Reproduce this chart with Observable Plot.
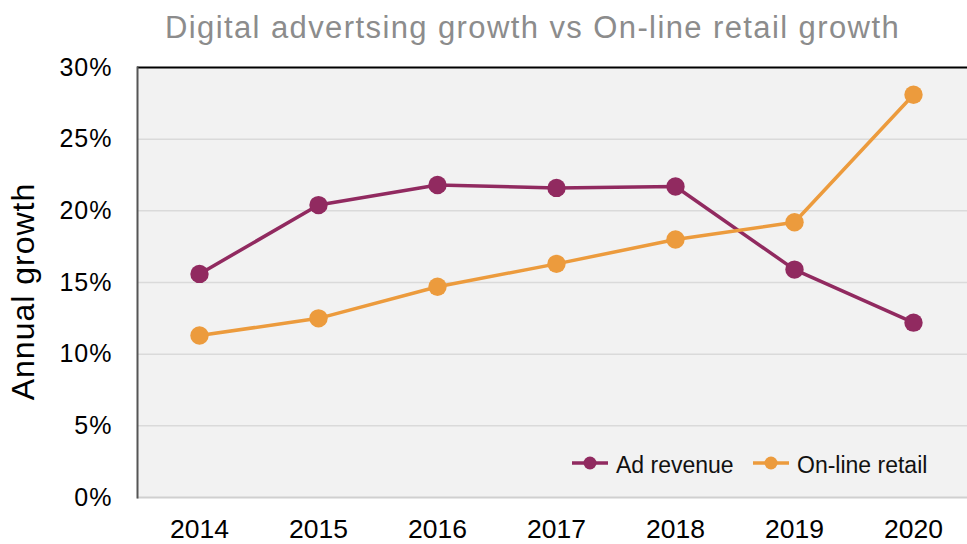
<!DOCTYPE html>
<html>
<head>
<meta charset="utf-8">
<script src="https://cdn.jsdelivr.net/npm/d3@7"></script>
<script src="https://cdn.jsdelivr.net/npm/@observablehq/plot@0.6"></script>
<style>
  html, body { margin: 0; padding: 0; background: #fff; }
  body { width: 967px; height: 544px; overflow: hidden; position: relative; font-family: "Liberation Sans", Arial, Helvetica, sans-serif; }
  #title { height: 52px; line-height: 56px; text-align: center; font-size: 31px; letter-spacing: 1.4px; color: #8c8c8c; padding-left: 98px; box-sizing: border-box; white-space: nowrap; overflow: visible; }
  #legend { position: absolute; left: 0; top: 0; pointer-events: none; }
</style>
</head>
<body>
<div id="title">Digital advertsing growth vs On-line retail growth</div>
<div id="chart"></div>
<svg id="legend" width="967" height="544"></svg>
<script>
const years = ["2014", "2015", "2016", "2017", "2018", "2019", "2020"];
const adRevenue = [15.6, 20.4, 21.8, 21.6, 21.7, 15.9, 12.2];
const onlineRetail = [11.3, 12.5, 14.7, 16.3, 18.0, 19.2, 28.1];
const seriesNames = ["Ad revenue", "On-line retail"];
const seriesColors = ["#912a60", "#ec9b3d"];
const yTicks = [0, 5, 10, 15, 20, 25, 30];
const yLabel = "Annual growth";

const data = [];
years.forEach((y, i) => {
  data.push({year: y, value: adRevenue[i], series: seriesNames[0]});
  data.push({year: y, value: onlineRetail[i], series: seriesNames[1]});
});

const font = '"Liberation Sans", Arial, Helvetica, sans-serif';

const chart = Plot.plot({
  width: 967,
  height: 492,
  marginTop: 15,
  marginBottom: 47,
  marginLeft: 137,
  marginRight: 0,
  style: {fontFamily: font, fontSize: "22px", color: "#000", background: "#fff"},
  x: {type: "point", domain: years, range: [197, 914], padding: 0},
  y: {domain: [0, 30]},
  color: {domain: seriesNames, range: seriesColors},
  marks: [
    Plot.frame({fill: "#f2f2f2", stroke: null}),
    Plot.gridY(yTicks.slice(1, -1), {stroke: "#dadada", strokeOpacity: 1, strokeWidth: 1.5}),
    Plot.ruleY([0], {stroke: "#d0d0d0", strokeWidth: 2}),
    Plot.ruleY([30], {stroke: "#000", strokeWidth: 2}),
    Plot.frame({anchor: "left", stroke: "#555", strokeWidth: 2}),
    Plot.axisY(yTicks, {tickSize: 0, tickPadding: 25, tickFormat: d => d + "%", fontSize: 25, label: null}),
    Plot.axisX(years, {tickSize: 0, tickPadding: 22, fontSize: 26.5, label: null}),
    Plot.text([yLabel], {frameAnchor: "left", rotate: -90, dx: -104, dy: 9, lineAnchor: "bottom", textAnchor: "middle", fontSize: 32, fill: "#000"}),
    Plot.line(data, {x: "year", y: "value", stroke: "series", strokeWidth: 3.5, z: "series"}),
    Plot.dot(data, {x: "year", y: "value", fill: "series", r: 9.2, stroke: null})
  ]
});
chart.querySelectorAll('[aria-label="y-axis tick label"] text').forEach(t => t.setAttribute("letter-spacing", "1px"));
chart.querySelectorAll('[aria-label="text"] text').forEach(t => t.setAttribute("letter-spacing", "1px"));
document.getElementById("chart").appendChild(chart);

// legend (inside the plot area, bottom right)
const legendX = [572, 753];
const legend = d3.select("#legend");
seriesNames.forEach((name, i) => {
  const g = legend.append("g").attr("transform", `translate(${legendX[i]},463)`);
  g.append("line").attr("x1", 0).attr("x2", 36).attr("y1", 0).attr("y2", 0)
    .attr("stroke", seriesColors[i]).attr("stroke-width", 3.5);
  g.append("circle").attr("cx", 18).attr("cy", 0).attr("r", 6.5).attr("fill", seriesColors[i]);
  g.append("text").attr("x", 44).attr("y", 10).attr("font-size", 23)
    .attr("font-family", font).attr("fill", "#111").text(name);
});
</script>
</body>
</html>
